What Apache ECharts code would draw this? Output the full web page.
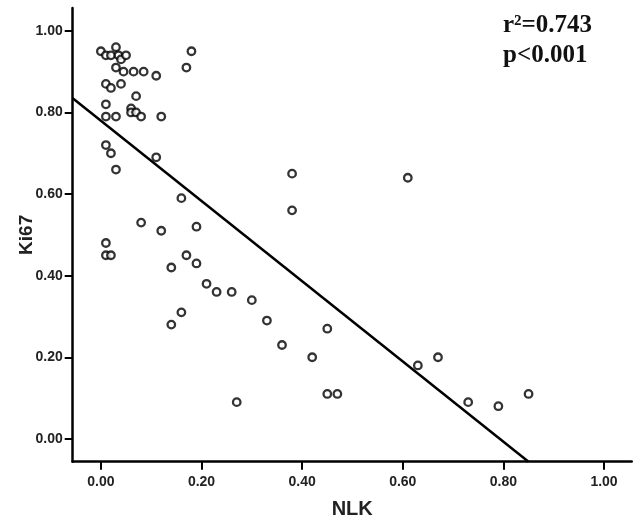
<!DOCTYPE html>
<html>
<head>
<meta charset="utf-8">
<script src="https://cdn.jsdelivr.net/npm/echarts@6/dist/echarts.min.js"></script>
<style>
  html, body { margin: 0; padding: 0; background: #fff; }
  #main { width: 641px; height: 528px; }
</style>
</head>
<body>
<div id="main"></div>
<script>
// NLK 与 Ki67 散点数据
const nlk = [
  0.00, 0.01, 0.02, 0.03, 0.035, 0.04, 0.05, 0.03, 0.045, 0.065, 0.085, 0.11, 0.18, 0.17,
  0.01, 0.02, 0.04, 0.07, 0.01, 0.06, 0.06, 0.07, 0.08, 0.01, 0.03, 0.12,
  0.01, 0.02, 0.11, 0.03, 0.16, 0.08, 0.12, 0.19, 0.01, 0.01, 0.02, 0.17, 0.19, 0.14,
  0.38, 0.38, 0.21, 0.23, 0.26, 0.30, 0.33, 0.16, 0.14, 0.45, 0.36, 0.42, 0.45, 0.47, 0.27,
  0.61, 0.63, 0.67, 0.73, 0.79, 0.85
]
const ki67 = [
  0.95, 0.94, 0.94, 0.96, 0.94, 0.93, 0.94, 0.91, 0.90, 0.90, 0.90, 0.89, 0.95, 0.91,
  0.87, 0.86, 0.87, 0.84, 0.82, 0.81, 0.80, 0.80, 0.79, 0.79, 0.79, 0.79,
  0.72, 0.70, 0.69, 0.66, 0.59, 0.53, 0.51, 0.52, 0.48, 0.45, 0.45, 0.45, 0.43, 0.42,
  0.65, 0.56, 0.38, 0.36, 0.36, 0.34, 0.29, 0.31, 0.28, 0.27, 0.23, 0.20, 0.11, 0.11, 0.09,
  0.64, 0.18, 0.20, 0.09, 0.08, 0.11
]
// 回归线两端
const fitX = [-0.056, 0.85]
const fitY = [0.835, -0.056]
// 刻度
const ticks = [0, 0.2, 0.4, 0.6, 0.8, 1.0]

const points = nlk.map((v, i) => [v, ki67[i]])
const line = fitX.map((v, i) => [v, fitY[i]])

const axisCommon = {
  type: 'value',
  min: -0.056,
  max: 1.055,
  splitLine: { show: false },
  axisLine: { show: true, onZero: false, lineStyle: { color: '#000', width: 2.5 } },
  axisTick: { show: true, customValues: ticks, length: 8, lineStyle: { color: '#000', width: 2 } },
  axisLabel: {
    customValues: ticks,
    color: '#222',
    fontFamily: 'Liberation Sans',
    fontWeight: 'bold',
    fontSize: 14,
    formatter: (v) => v.toFixed(2)
  },
  nameLocation: 'middle',
  nameMoveOverlap: false,
  nameTextStyle: { color: '#222', fontFamily: 'Liberation Sans', fontWeight: 'bold', fontSize: 20 }
}

let options = {
  animation: false,
  backgroundColor: '#fff',
  grid: { left: 72.7, right: 9.3, top: 8, bottom: 66.3 },
  xAxis: Object.assign({}, axisCommon, {
    name: 'NLK',
    nameGap: 38,
    axisLabel: Object.assign({}, axisCommon.axisLabel, { margin: 13 })
  }),
  yAxis: Object.assign({}, axisCommon, {
    min: -0.056,
    max: 1.056,
    name: 'Ki67',
    nameGap: 36,
    nameTextStyle: Object.assign({}, axisCommon.nameTextStyle, { fontSize: 19 }),
    axisLabel: Object.assign({}, axisCommon.axisLabel, { margin: 10 })
  }),
  graphic: [
    {
      type: 'text', left: 503, top: 13,
      style: { text: 'r²=0.743', font: 'bold 25px "Liberation Serif"', fill: '#111' }
    },
    {
      type: 'text', left: 503, top: 43,
      style: { text: 'p<0.001', font: 'bold 25px "Liberation Serif"', fill: '#111' }
    }
  ],
  series: [
    {
      type: 'line',
      data: line,
      symbol: 'none',
      lineStyle: { color: '#000', width: 2.5 },
      z: 1
    },
    {
      type: 'scatter',
      data: points,
      symbol: 'circle',
      symbolSize: 7.5,
      itemStyle: { color: '#fff', borderColor: '#000', borderWidth: 2.3 },
      z: 2
    }
  ]
}

let echart = echarts.init(document.getElementById('main'))
echart.setOption(options)
</script>
</body>
</html>
